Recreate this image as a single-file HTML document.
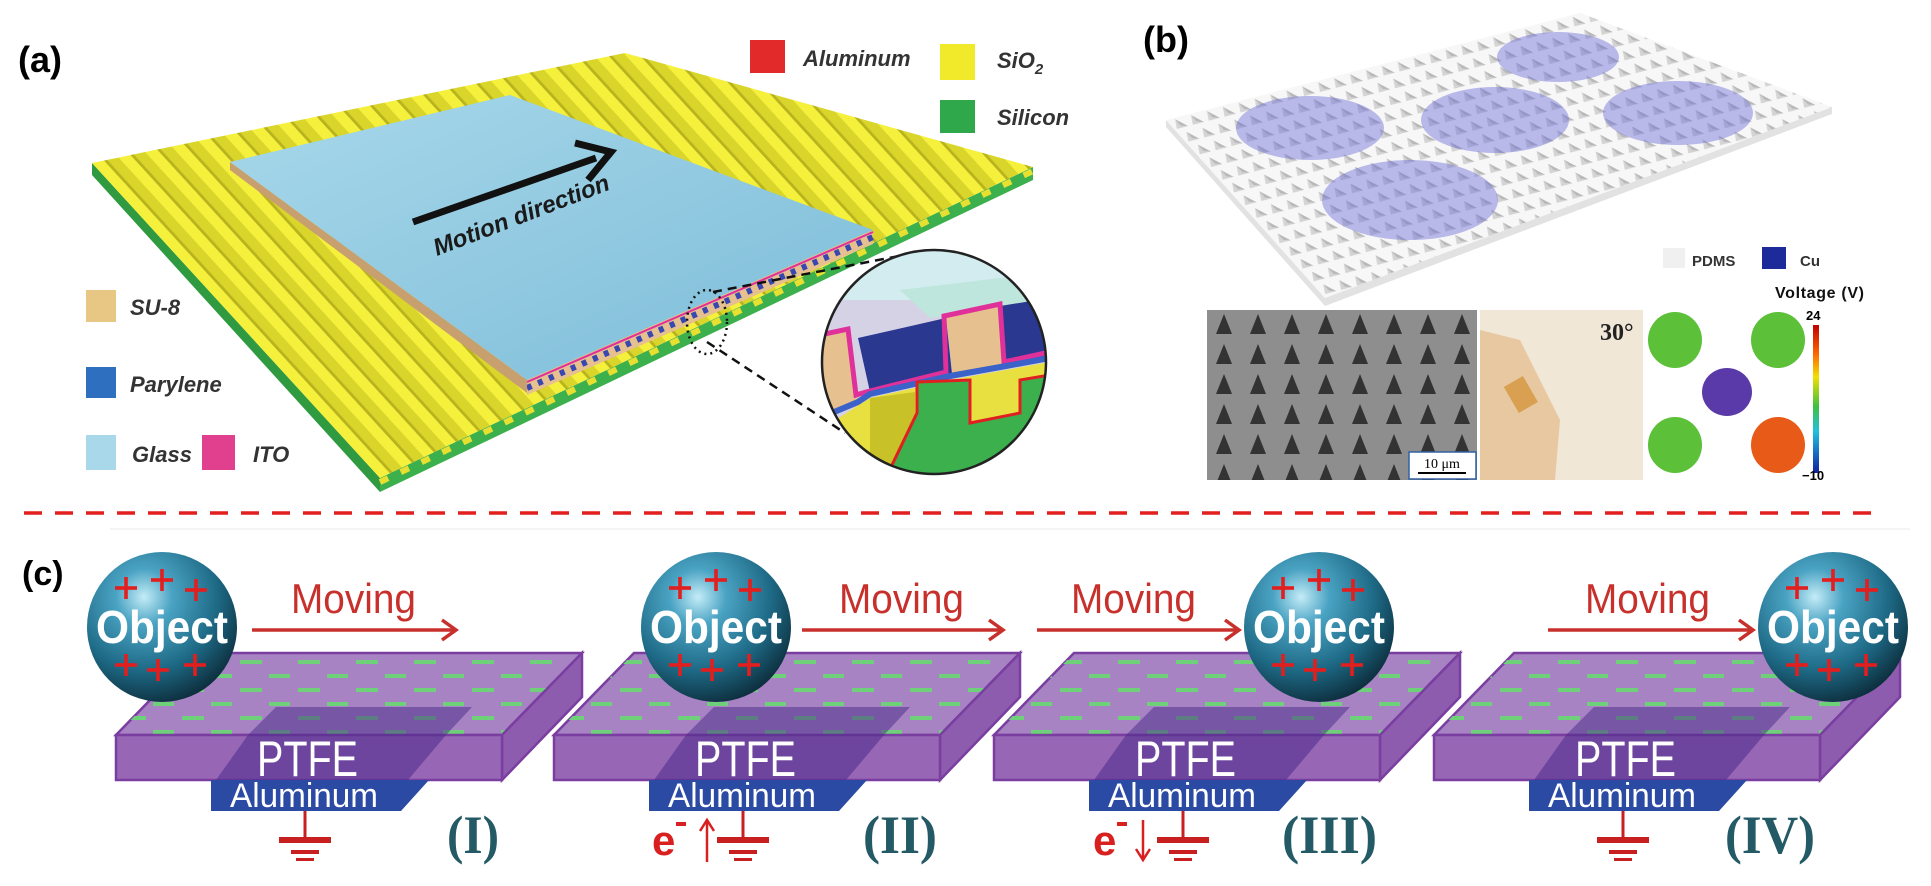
<!DOCTYPE html>
<html><head><meta charset="utf-8"><style>
html,body{margin:0;padding:0;background:#fff;}
svg{display:block;}
</style></head><body>
<svg width="1931" height="886" viewBox="0 0 1931 886" xmlns="http://www.w3.org/2000/svg" font-family="Liberation Sans, sans-serif">
<defs>
  <pattern id="ridge" patternUnits="userSpaceOnUse" width="1" height="1" patternTransform="matrix(22,-10.5,288,315,92,163)">
    <rect x="0" y="0" width="1" height="1" fill="#d9d52a"/>
    <rect x="0" y="0" width="0.45" height="1" fill="#f4f03c"/>
    <rect x="0.45" y="0" width="0.12" height="1" fill="#b9b41e"/>
  </pattern>
  <linearGradient id="glass" x1="0" y1="0" x2="1" y2="1">
    <stop offset="0" stop-color="#a8d8ea"/><stop offset="1" stop-color="#7cbcd8"/>
  </linearGradient>
  <pattern id="pyr" patternUnits="userSpaceOnUse" width="1" height="1" patternTransform="matrix(15.9,-4.1,11.4,12.7,1166,120)">
    <rect width="1" height="1" fill="#f7f7f7"/>
    <polygon points="0.5,0.1 0.85,0.75 0.15,0.75" fill="#d4d4d4"/>
    <polygon points="0.5,0.1 0.85,0.75 0.5,0.6" fill="#b8b8b8"/>
  </pattern>
  <pattern id="sem" patternUnits="userSpaceOnUse" width="34" height="30" patternTransform="translate(1207,310)">
    <rect width="34" height="30" fill="#8e8e8e"/>
    <polygon points="17,4 25,24 9,24" fill="#333"/>
  </pattern>
  <pattern id="dash" patternUnits="userSpaceOnUse" width="58" height="28" patternTransform="translate(0,653)">
    <rect x="8" y="7" width="22" height="4" fill="#6fd07a"/>
    <rect x="37" y="21" width="22" height="4" fill="#6fd07a"/>
  </pattern>
  <radialGradient id="sph" cx="0.38" cy="0.3" r="0.75">
    <stop offset="0" stop-color="#c4ecf7"/><stop offset="0.25" stop-color="#4aa3c3"/>
    <stop offset="0.65" stop-color="#1e6a86"/><stop offset="1" stop-color="#0c2a38"/>
  </radialGradient>
  <linearGradient id="cbar" x1="0" y1="0" x2="0" y2="1">
    <stop offset="0" stop-color="#c00000"/><stop offset="0.2" stop-color="#ff6a00"/><stop offset="0.35" stop-color="#f0e000"/>
    <stop offset="0.55" stop-color="#40c040"/><stop offset="0.72" stop-color="#20c0e0"/><stop offset="1" stop-color="#1020a0"/>
  </linearGradient>
  <clipPath id="inset"><circle cx="934" cy="362" r="112"/></clipPath>
  <clipPath id="bplate"><polygon points="1166,120 1580,13 1832,107 1325,298"/></clipPath>
  <g id="plus"><rect x="-11" y="-1.8" width="22" height="3.6" fill="#e21e1e"/><rect x="-1.8" y="-11" width="3.6" height="22" fill="#e21e1e"/></g>
</defs>

<!-- ===== (a) ===== -->
<text x="18" y="72" font-size="36" font-weight="bold">(a)</text>
<polygon points="92,163 380,478 380,492 92,175" fill="#2f9a40"/>
<polygon points="380,478 1033,167 1033,180 380,492" fill="#3cb04c"/>
<line x1="380" y1="482" x2="1033" y2="171" stroke="#e8e030" stroke-width="6" stroke-dasharray="9 14"/>
<polygon points="92,163 625,53 1033,167 380,478" fill="url(#ridge)"/>
<polygon points="527,380 873,230 873,244 527,395" fill="#e6c08e"/>
<line x1="527" y1="388" x2="873" y2="237" stroke="#3848b0" stroke-width="6" stroke-dasharray="5 7"/>
<line x1="527" y1="382" x2="873" y2="232" stroke="#e0309a" stroke-width="2"/>
<polygon points="230,162 527,380 527,393 230,170" fill="#c8a070"/>
<polygon points="230,162 510,95 873,230 527,380" fill="url(#glass)"/>
<line x1="413" y1="222" x2="596" y2="158" stroke="#111" stroke-width="7"/>
<polyline points="575,143 611,152 588,180" fill="none" stroke="#111" stroke-width="7"/>
<text x="437" y="256" font-size="24" font-weight="bold" font-style="italic" fill="#1a1a1a" transform="rotate(-21 437 256)">Motion direction</text>
<ellipse cx="707" cy="322" rx="20" ry="32" fill="none" stroke="#111" stroke-width="2.5" stroke-dasharray="2 4"/>
<line x1="713" y1="292" x2="930" y2="250" stroke="#111" stroke-width="2.5" stroke-dasharray="9 6"/>
<line x1="707" y1="342" x2="845" y2="433" stroke="#111" stroke-width="2.5" stroke-dasharray="9 6"/>
<g clip-path="url(#inset)">
  <rect x="820" y="248" width="230" height="240" fill="#d6d2e6"/>
  <polygon points="820,250 1050,250 1050,300 820,300" fill="#d2ecf0"/>
  <polygon points="900,290 1050,272 1050,300 930,318" fill="#bfe6dc"/>
  <polygon points="820,338 848,331 860,405 820,420" fill="#e6c08e"/>
  <polygon points="946,316 1000,306 1004,365 952,374" fill="#e6c08e"/>
  <polygon points="858,338 946,318 952,374 870,392" fill="#2a3890"/>
  <polygon points="1000,306 1050,298 1050,355 1004,365" fill="#2a3890"/>
  <polyline points="820,335 848,329 856,395 866,392 946,372 944,316 1000,304 1004,362 1050,352" fill="none" stroke="#e0309a" stroke-width="5"/>
  <polyline points="820,418 858,402 870,394 950,376 1006,366 1050,358" fill="none" stroke="#3a62c8" stroke-width="6"/>
  <polygon points="820,430 870,398 950,380 1050,362 1050,490 820,490" fill="#e8e040"/>
  <polygon points="870,398 915,392 915,470 870,480" fill="#c9c128"/>
  <polygon points="880,490 917,413 917,382 970,380 970,423 1020,413 1020,380 1050,375 1050,490" fill="#3cb04c"/>
  <polyline points="880,490 917,413 917,382 970,380 970,423 1020,413 1020,380 1050,375" fill="none" stroke="#e02020" stroke-width="3"/>
</g>
<circle cx="934" cy="362" r="112" fill="none" stroke="#222" stroke-width="2.5"/>
<g font-size="22" font-style="italic" font-weight="bold" fill="#333">
  <rect x="86" y="290" width="30" height="32" fill="#e8c684"/><text x="130" y="315">SU-8</text>
  <rect x="86" y="367" width="30" height="31" fill="#2f6fc0"/><text x="130" y="392">Parylene</text>
  <rect x="86" y="435" width="30" height="35" fill="#a8d8ea"/><text x="132" y="462">Glass</text>
  <rect x="202" y="435" width="33" height="35" fill="#e0408e"/><text x="253" y="462">ITO</text>
  <rect x="750" y="40" width="35" height="33" fill="#e22a2a"/><text x="803" y="66">Aluminum</text>
  <rect x="940" y="44" width="35" height="36" fill="#f0ea2a"/><text x="997" y="68">SiO<tspan font-size="15" dy="6">2</tspan></text>
  <rect x="940" y="100" width="35" height="33" fill="#2ea84a"/><text x="997" y="125">Silicon</text>
</g>

<!-- ===== (b) ===== -->
<text x="1143" y="52" font-size="36" font-weight="bold">(b)</text>
<polygon points="1166,120 1325,298 1832,107 1832,114 1325,306 1166,127" fill="#e2e2e2"/>
<polygon points="1166,120 1580,13 1832,107 1325,298" fill="url(#pyr)"/>
<g clip-path="url(#bplate)" fill="#6a6ad8" fill-opacity="0.45">
  <ellipse cx="1558" cy="57" rx="61" ry="25"/>
  <ellipse cx="1310" cy="128" rx="74" ry="32"/>
  <ellipse cx="1495" cy="120" rx="74" ry="33"/>
  <ellipse cx="1678" cy="113" rx="75" ry="32"/>
  <ellipse cx="1410" cy="200" rx="88" ry="40"/>
</g>
<rect x="1663" y="248" width="22" height="20" fill="#f0f0f0"/>
<text x="1692" y="266" font-size="15" font-weight="bold" fill="#333">PDMS</text>
<rect x="1762" y="247" width="24" height="22" fill="#1c2a9a"/>
<text x="1800" y="266" font-size="15" font-weight="bold" fill="#333">Cu</text>
<text x="1775" y="298" font-size="16" font-weight="bold" fill="#111" textLength="89">Voltage (V)</text>
<rect x="1207" y="310" width="270" height="170" fill="url(#sem)"/>
<rect x="1409" y="452" width="67" height="27" fill="#fff" stroke="#3060a0" stroke-width="1.5"/>
<text x="1442" y="468" font-size="14" text-anchor="middle" font-family="Liberation Serif, serif">10 μm</text>
<line x1="1418" y1="473" x2="1466" y2="473" stroke="#000" stroke-width="2"/>
<rect x="1480" y="310" width="163" height="170" fill="#f1e7d6"/>
<polygon points="1480,330 1520,340 1560,420 1555,480 1480,480" fill="#e8c8a0"/>
<rect x="1510" y="380" width="22" height="30" fill="#d8a050" transform="rotate(-30 1520 395)"/>
<text x="1600" y="340" font-size="24" font-family="Liberation Serif, serif" font-weight="bold" fill="#222">30°</text>
<ellipse cx="1675" cy="340" rx="27" ry="28" fill="#5cc038"/>
<ellipse cx="1778" cy="340" rx="27" ry="28" fill="#5cc038"/>
<ellipse cx="1727" cy="392" rx="25" ry="24" fill="#5a3aa8"/>
<ellipse cx="1675" cy="445" rx="27" ry="28" fill="#5cc038"/>
<ellipse cx="1778" cy="445" rx="27" ry="28" fill="#e85a18"/>
<rect x="1813" y="325" width="6" height="148" fill="url(#cbar)"/>
<text x="1806" y="320" font-size="13" font-weight="bold">24</text>
<text x="1802" y="480" font-size="13" font-weight="bold">−10</text>

<line x1="24" y1="513" x2="1880" y2="513" stroke="#e21e1e" stroke-width="3.5" stroke-dasharray="18 13"/>
<line x1="110" y1="529" x2="1910" y2="529" stroke="#f0f0f0" stroke-width="1.5"/>

<!-- ===== (c) ===== -->
<text x="22" y="585" font-size="34" font-weight="bold">(c)</text>

<g id="slab1" transform="translate(116,0)">
  <polygon points="80,653 466,653 386,735 0,735" fill="#a783c3" stroke="#7a3ea0" stroke-width="2.5"/>
  <polygon points="80,653 466,653 386,735 0,735" fill="url(#dash)"/>
  <polygon points="386,735 466,653 466,697 386,780" fill="#8e5cae" stroke="#7a3ea0" stroke-width="2.5"/>
  <rect x="0" y="735" width="386" height="45" fill="#9767b5" stroke="#7a3ea0" stroke-width="2.5"/>
  <polygon points="160,707 356,707 330,735 132,735" fill="#4a2a8a" fill-opacity="0.5"/>
  <polygon points="132,735 330,735 292,780 100,780" fill="#4a2a8a" fill-opacity="0.55"/>
  <text x="141" y="776" font-size="50" fill="#fff" textLength="101" lengthAdjust="spacingAndGlyphs">PTFE</text>
  <polygon points="95,780 313,780 285,811 95,811" fill="#2b4aa3"/>
  <text x="114" y="807" font-size="34" fill="#fff" textLength="148" lengthAdjust="spacingAndGlyphs">Aluminum</text>
  <line x1="189" y1="811" x2="189" y2="839" stroke="#c82020" stroke-width="3"/>
  <rect x="163" y="837" width="52" height="6" fill="#c82020"/>
  <rect x="175" y="850" width="28" height="4" fill="#c82020"/>
  <rect x="180" y="858" width="18" height="3" fill="#c82020"/>
</g>
<use href="#slab1" transform="translate(438,0)"/>
<use href="#slab1" transform="translate(878,0)"/>
<use href="#slab1" transform="translate(1318,0)"/>

<g font-family="Liberation Serif, serif" font-weight="bold" font-size="54" fill="#235a66">
  <text x="447" y="853" textLength="52" lengthAdjust="spacingAndGlyphs">(I)</text>
  <text x="863" y="853" textLength="74" lengthAdjust="spacingAndGlyphs">(II)</text>
  <text x="1282" y="853" textLength="95" lengthAdjust="spacingAndGlyphs">(III)</text>
  <text x="1725" y="853" textLength="90" lengthAdjust="spacingAndGlyphs">(IV)</text>
</g>
<g fill="#d82020">
  <text x="652" y="855" font-size="42" font-weight="bold">e</text>
  <rect x="676" y="822" width="10" height="4"/>
  <line x1="707" y1="862" x2="707" y2="822" stroke="#d82020" stroke-width="2.5"/>
  <polyline points="700,831 707,820 714,831" fill="none" stroke="#d82020" stroke-width="2.5"/>
  <text x="1093" y="855" font-size="42" font-weight="bold">e</text>
  <rect x="1117" y="822" width="10" height="4"/>
  <line x1="1143" y1="820" x2="1143" y2="858" stroke="#d82020" stroke-width="2.5"/>
  <polyline points="1136,849 1143,860 1150,849" fill="none" stroke="#d82020" stroke-width="2.5"/>
</g>

<g fill="#c8302c" font-size="42">
  <text x="291" y="613" textLength="125" lengthAdjust="spacingAndGlyphs">Moving</text>
  <text x="839" y="613" textLength="125" lengthAdjust="spacingAndGlyphs">Moving</text>
  <text x="1071" y="613" textLength="125" lengthAdjust="spacingAndGlyphs">Moving</text>
  <text x="1585" y="613" textLength="125" lengthAdjust="spacingAndGlyphs">Moving</text>
</g>
<g stroke="#c8302c" stroke-width="3.5" fill="none">
  <line x1="252" y1="630" x2="454" y2="630"/><polyline points="442,620 456,630 442,640"/>
  <line x1="802" y1="630" x2="1001" y2="630"/><polyline points="989,620 1003,630 989,640"/>
  <line x1="1037" y1="630" x2="1237" y2="630"/><polyline points="1225,620 1239,630 1225,640"/>
  <line x1="1548" y1="630" x2="1751" y2="630"/><polyline points="1739,620 1753,630 1739,640"/>
</g>

<g id="sp1">
  <circle cx="162" cy="627" r="75" fill="url(#sph)"/>
  <text x="162" y="643" font-size="46" font-weight="bold" fill="#fff" text-anchor="middle" textLength="132" lengthAdjust="spacingAndGlyphs">Object</text>
  <use href="#plus" x="126" y="588"/><use href="#plus" x="162" y="580"/><use href="#plus" x="196" y="590"/>
  <use href="#plus" x="126" y="665"/><use href="#plus" x="158" y="670"/><use href="#plus" x="195" y="665"/>
</g>
<use href="#sp1" transform="translate(554,0)"/>
<use href="#sp1" transform="translate(1157,0)"/>
<use href="#sp1" transform="translate(1671,0)"/>
</svg>
</body></html>
